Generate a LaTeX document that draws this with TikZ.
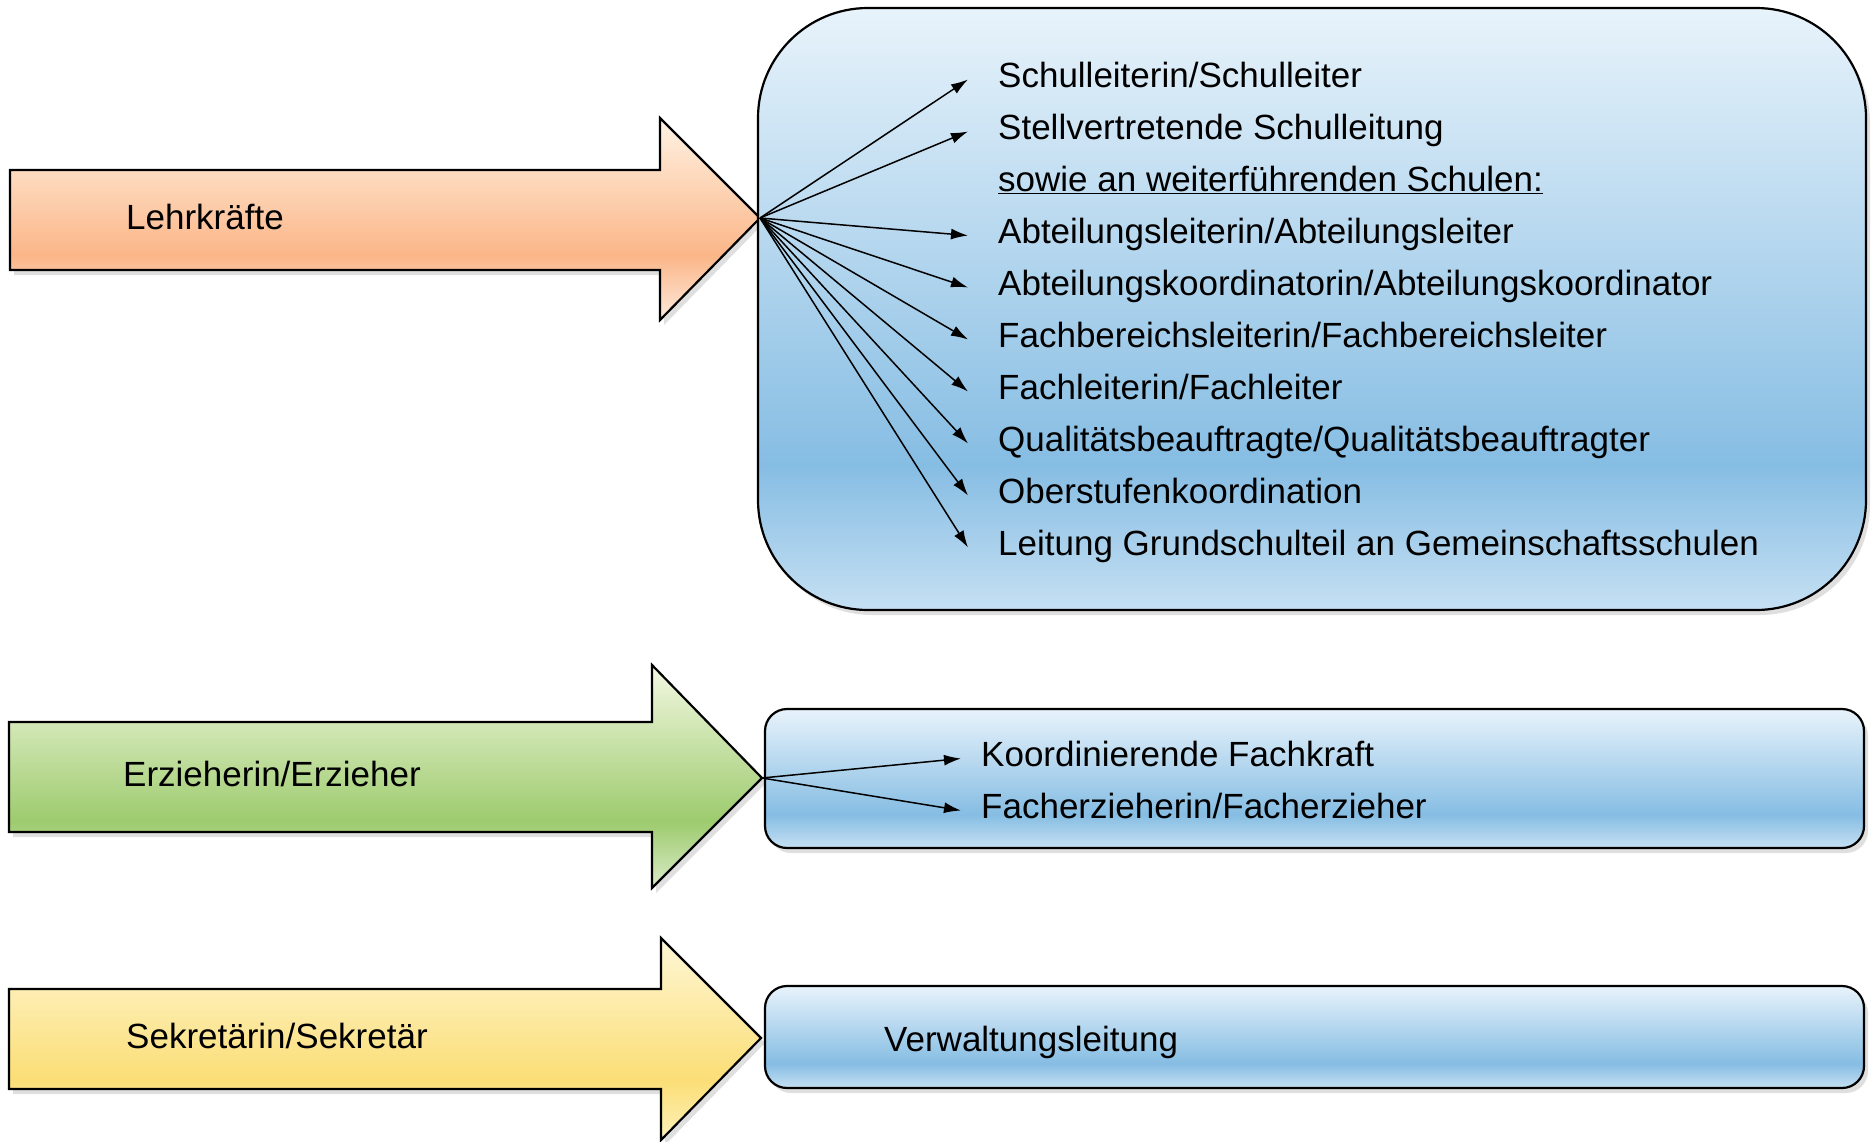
\documentclass[tikz,border=0pt]{standalone}
\usepackage{fontspec}
\setmainfont{Liberation Sans}
\usepackage{tikz}
\usetikzlibrary{positioning, shadows, arrows.meta}
\usepackage{xcolor}
\definecolor{orangetop}{RGB}{255,243,228}
\definecolor{orangesat}{RGB}{251,182,136}
\definecolor{orangebot}{RGB}{253,234,220}
\definecolor{greentop}{RGB}{243,248,226}
\definecolor{greensat}{RGB}{157,203,110}
\definecolor{greenbot}{RGB}{218,235,200}
\definecolor{yellowtop}{RGB}{254,247,214}
\definecolor{yellowsat}{RGB}{251,222,118}
\definecolor{yellowbot}{RGB}{254,241,186}
\definecolor{bluetop}{RGB}{232,243,251}
\definecolor{bluesat}{RGB}{134,189,227}
\definecolor{bluebot}{RGB}{198,224,243}
\pgfdeclareverticalshading{orangeshade}{100bp}{color(0bp)=(orangebot); color(25bp)=(orangebot); color(41bp)=(orangesat); color(75bp)=(orangetop); color(100bp)=(orangetop)}
\pgfdeclareverticalshading{greenshade}{100bp}{color(0bp)=(greenbot); color(25bp)=(greenbot); color(40bp)=(greensat); color(75bp)=(greentop); color(100bp)=(greentop)}
\pgfdeclareverticalshading{yellowshade}{100bp}{color(0bp)=(yellowbot); color(25bp)=(yellowbot); color(40bp)=(yellowsat); color(75bp)=(yellowtop); color(100bp)=(yellowtop)}
\pgfdeclareverticalshading{blueshade}{100bp}{color(0bp)=(bluebot); color(25bp)=(bluebot); color(37bp)=(bluesat); color(75bp)=(bluetop); color(100bp)=(bluetop)}

\begin{document}
\begin{tikzpicture}[x=1pt, y=-1pt, every node/.style={font=\fontsize{35}{42}\selectfont}, >={Latex[length=17pt, width=11pt]},
    shadowed/.style={draw, line width=2.2pt, drop shadow={shadow xshift=4pt, shadow yshift=-5pt, opacity=0.25}},
    bluebox/.style={shadowed, shading=blueshade, inner sep=0pt},
    arrowtext/.style={anchor=west, inner sep=0pt, text height=24pt, text depth=8pt},
    item/.style={anchor=west, inner xsep=30pt, inner ysep=9.8pt, text height=24pt, text depth=8pt},
    fan/.style={->, line width=1.5pt}]
  \useasboundingbox (0,0) rectangle (1876,1141);

  % Lehrkraefte
  \draw[shadowed, shading=orangeshade] (10,170) -- (660,170) -- (660,118) -- (760,218) -- (660,320) -- (660,270) -- (10,270) -- cycle;
  \coordinate (lehrtip) at (760,218);
  \node[arrowtext] (lehr) at (126,221) {Lehrkräfte};

  \node[bluebox, rounded corners=110pt, minimum width=1108pt, minimum height=602pt] (board) at (1312,309) {};

  \node[item] (s1) at (968,79.5) {Schulleiterin/Schulleiter};
  \node[item, below=0pt of s1.south west, anchor=north west] (s2) {Stellvertretende Schulleitung};
  \node[item, below=0pt of s2.south west, anchor=north west] (s3) {\underline{sowie an weiterführenden Schulen:}};
  \node[item, below=0pt of s3.south west, anchor=north west] (s4) {Abteilungsleiterin/Abteilungsleiter};
  \node[item, below=0pt of s4.south west, anchor=north west] (s5) {Abteilungskoordinatorin/Abteilungskoordinator};
  \node[item, below=0pt of s5.south west, anchor=north west] (s6) {Fachbereichsleiterin/Fachbereichsleiter};
  \node[item, below=0pt of s6.south west, anchor=north west] (s7) {Fachleiterin/Fachleiter};
  \node[item, below=0pt of s7.south west, anchor=north west] (s8) {Qualitätsbeauftragte/Qualitätsbeauftragter};
  \node[item, below=0pt of s8.south west, anchor=north west] (s9) {Oberstufenkoordination};
  \node[item, below=0pt of s9.south west, anchor=north west] (s10) {Leitung Grundschulteil an Gemeinschaftsschulen};

  \draw[fan] (lehrtip) -- (s1.west);
  \draw[fan] (lehrtip) -- (s2.west);
  \draw[fan] (lehrtip) -- (s4.west);
  \draw[fan] (lehrtip) -- (s5.west);
  \draw[fan] (lehrtip) -- (s6.west);
  \draw[fan] (lehrtip) -- (s7.west);
  \draw[fan] (lehrtip) -- (s8.west);
  \draw[fan] (lehrtip) -- (s9.west);
  \draw[fan] (lehrtip) -- (s10.west);

  % Erzieherin
  \draw[shadowed, shading=greenshade] (9,722) -- (652,722) -- (652,665) -- (762,778) -- (652,888) -- (652,832) -- (9,832) -- cycle;
  \coordinate (erztip) at (762,778);
  \node[arrowtext] (erz) at (123,778) {Erzieherin/Erzieher};

  \node[bluebox, rounded corners=22pt, minimum width=1099pt, minimum height=139pt] (mid) at (1314.5,778.5) {};
  \node[item, inner xsep=20pt] (kf) at (961,758.5) {Koordinierende Fachkraft};
  \node[item, inner xsep=20pt, below=0pt of kf.south west, anchor=north west] (fz) {Facherzieherin/Facherzieher};

  \draw[fan] (erztip) -- (kf.west);
  \draw[fan] (erztip) -- (fz.west);

  % Sekretaerin
  \draw[shadowed, shading=yellowshade] (9,989) -- (661,989) -- (661,938) -- (761,1038) -- (661,1140) -- (661,1089) -- (9,1089) -- cycle;
  \node[arrowtext] (sek) at (126,1040) {Sekretärin/Sekretär};

  \node[bluebox, rounded corners=22pt, minimum width=1099pt, minimum height=102pt] (low) at (1314.5,1037) {};
  \node[arrowtext] (verw) at (884,1043) {Verwaltungsleitung};
\end{tikzpicture}
\end{document}
